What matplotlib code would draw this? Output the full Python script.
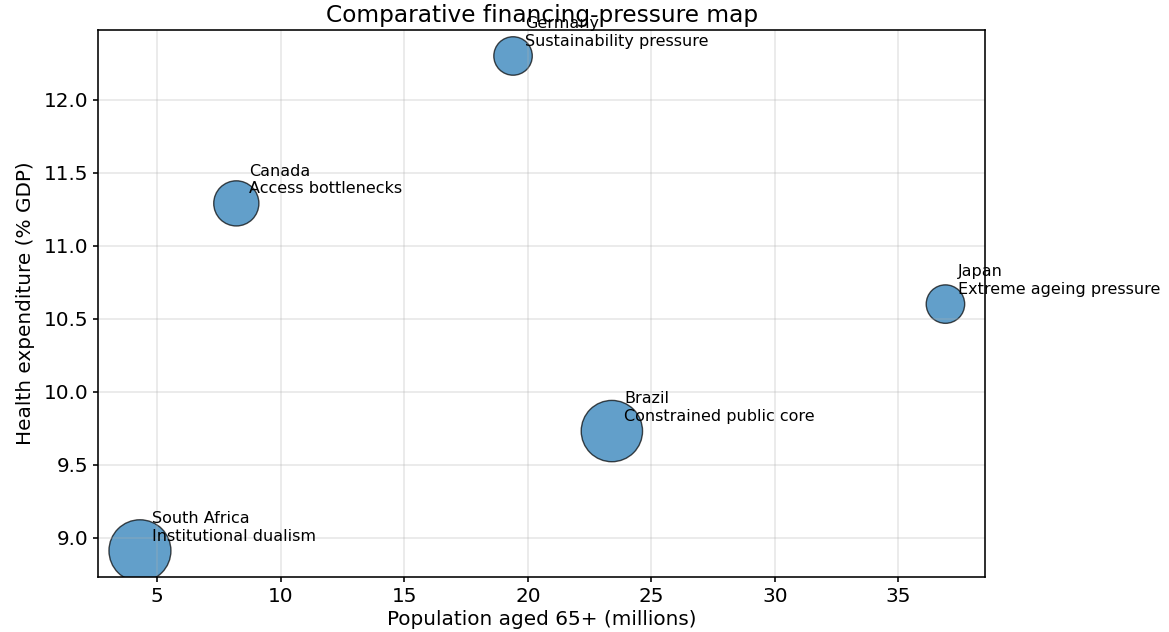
import matplotlib
matplotlib.use("Agg")
import matplotlib.pyplot as plt

# --- data ---
countries = ["South Africa", "Canada", "Germany", "Brazil", "Japan"]
notes = ["Institutional dualism", "Access bottlenecks", "Sustainability pressure",
         "Constrained public core", "Extreme ageing pressure"]
pop65 = [4.3, 8.2, 19.4, 23.4, 36.9]          # millions
health_exp = [8.91, 11.29, 12.30, 9.73, 10.60]  # % GDP
bubble = [960, 510, 370, 940, 370]              # marker area

DPI = 144
fig = plt.figure(figsize=(1169 / DPI, 632 / DPI), dpi=DPI)
ax = fig.add_subplot(111)
fig.subplots_adjust(left=0.084, right=0.843, bottom=0.087, top=0.953)

ax.scatter(pop65, health_exp, s=bubble, color="#1f77b4", alpha=0.7,
           edgecolors="k", linewidths=0.7)
for x, y, c, n in zip(pop65, health_exp, countries, notes):
    ax.text(x + 0.5, y + 0.07, f"{c}\n{n}", fontsize=8)

ax.set_xlim(2.61, 38.52)
ax.set_ylim(8.73, 12.48)
ax.tick_params(length=2.5, pad=2.5)
ax.set_xlabel("Population aged 65+ (millions)", labelpad=2)
ax.set_ylabel("Health expenditure (% GDP)")
ax.set_title("Comparative financing-pressure map", fontsize=11.6, pad=4)
ax.grid(True, alpha=0.3)

fig.savefig("out.png", dpi=DPI)
